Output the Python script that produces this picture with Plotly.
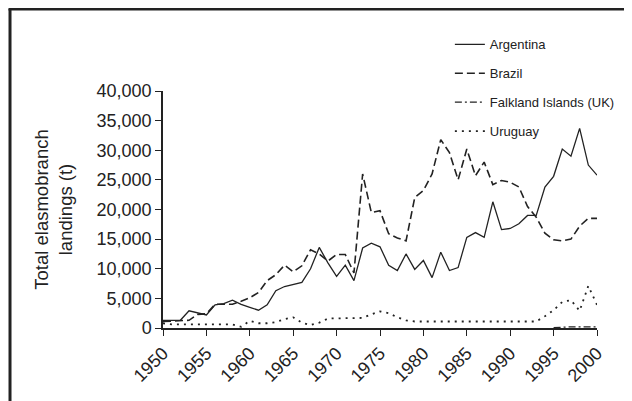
import plotly.graph_objects as go

# 年份与各国板鳃类渔获量（吨）
years = list(range(1950, 2001))

argentina = [
    1300, 1300, 1300, 2900, 2500, 2200, 3900, 4100, 4700, 4000,
    3500, 3000, 3900, 6300, 7000, 7300, 7700, 10000, 13600, 11000,
    8700, 10600, 8000, 13500, 14300, 13700, 10600, 9700, 12500, 9900,
    11400, 8500, 12800, 9700, 10200, 15300, 16100, 15300, 21300, 16600,
    16800, 17600, 19000, 19000, 23800, 25600, 30200, 29000, 33700, 27500,
    25800,
]

brazil = [
    1100, 1200, 1200, 1300, 2300, 2400, 4000, 4000, 4000, 4500,
    5100, 6000, 8000, 9000, 10600, 9500, 10500, 13200, 12500, 11300,
    12400, 12400, 9300, 26000, 19500, 19800, 15900, 15200, 14700, 22000,
    23200, 26000, 31800, 29600, 25000, 30200, 25700, 28000, 24200, 24900,
    24600, 23800, 20500, 18700, 16000, 14900, 14700, 15000, 17200, 18500,
    18500,
]

falkland = [None] * 45 + [50, 150, 200, 200, 200, 200]

uruguay = [
    800, 600, 600, 600, 600, 600, 600, 600, 600, 200,
    1200, 800, 800, 1000, 1500, 1800, 900, 500, 900, 1600,
    1600, 1700, 1700, 1700, 2300, 2800, 2500, 1800, 1300, 1100,
    1100, 1100, 1100, 1100, 1100, 1100, 1100, 1100, 1100, 1100,
    1100, 1100, 1100, 1100, 2000, 3000, 4400, 4700, 2900, 7100,
    3900,
]

y_ticks = [0, 5000, 10000, 15000, 20000, 25000, 30000, 35000, 40000]
x_ticks = list(range(1950, 2001, 5))

FONT = "Liberation Sans, Arial, Helvetica, sans-serif"
INK = "#222222"

fig = go.Figure()

series = [
    ("Argentina", argentina, dict(color=INK, width=1.3)),
    ("Brazil", brazil, dict(color=INK, width=1.6, dash="8px,4px")),
    ("Falkland Islands (UK)", falkland, dict(color=INK, width=1.2, dash="7px,3px,2px,3px")),
    ("Uruguay", uruguay, dict(color=INK, width=1.8, dash="2px,5px")),
]
for name, vals, line in series:
    fig.add_trace(go.Scatter(
        x=years, y=vals, name=name, mode="lines",
        line=line, legendgroup=name, connectgaps=False,
    ))

# 页面 body 有 8px 边距，边距按此偏移
fig.update_layout(
    width=632, height=401,
    margin=dict(l=155, r=43, t=83, b=81),
    plot_bgcolor="white",
    paper_bgcolor="white",
    font=dict(family=FONT, color=INK, size=18),
    showlegend=True,
    legend=dict(
        x=0.661, y=1.26, xanchor="left", yanchor="top",
        font=dict(size=13, color=INK),
        tracegroupgap=9,
        bgcolor="rgba(0,0,0,0)",
    ),
    xaxis=dict(
        range=[1950, 2000],
        tickvals=x_ticks,
        ticktext=[str(t) for t in x_ticks],
        tickangle=-45,
        ticks="outside", ticklen=6, tickcolor=INK, tickwidth=1.2,
        showline=True, linecolor=INK, linewidth=1.5,
        showgrid=False, zeroline=False, automargin=False,
        tickfont=dict(size=18),
    ),
    yaxis=dict(
        range=[0, 40000],
        tickvals=y_ticks,
        ticktext=[f"{t:,}" for t in y_ticks],
        ticks="outside", ticklen=6, tickcolor=INK, tickwidth=1.2,
        showline=True, linecolor=INK, linewidth=1.5,
        showgrid=False, zeroline=False, automargin=False,
        tickfont=dict(size=18),
        title=dict(text="Total elasmobranch<br>landings (t)", font=dict(size=18.5), standoff=19),
    ),
)

# 外框：左边和上边的粗线
fig.add_shape(type="line", xref="paper", yref="paper",
              x0=-0.3525, x1=-0.3525, y0=1.346, y1=-0.36,
              line=dict(color=INK, width=3))
fig.add_shape(type="line", xref="paper", yref="paper",
              x0=-0.356, x1=1.12, y0=1.346, y1=1.346,
              line=dict(color=INK, width=3))

fig.write_html("out.html")
